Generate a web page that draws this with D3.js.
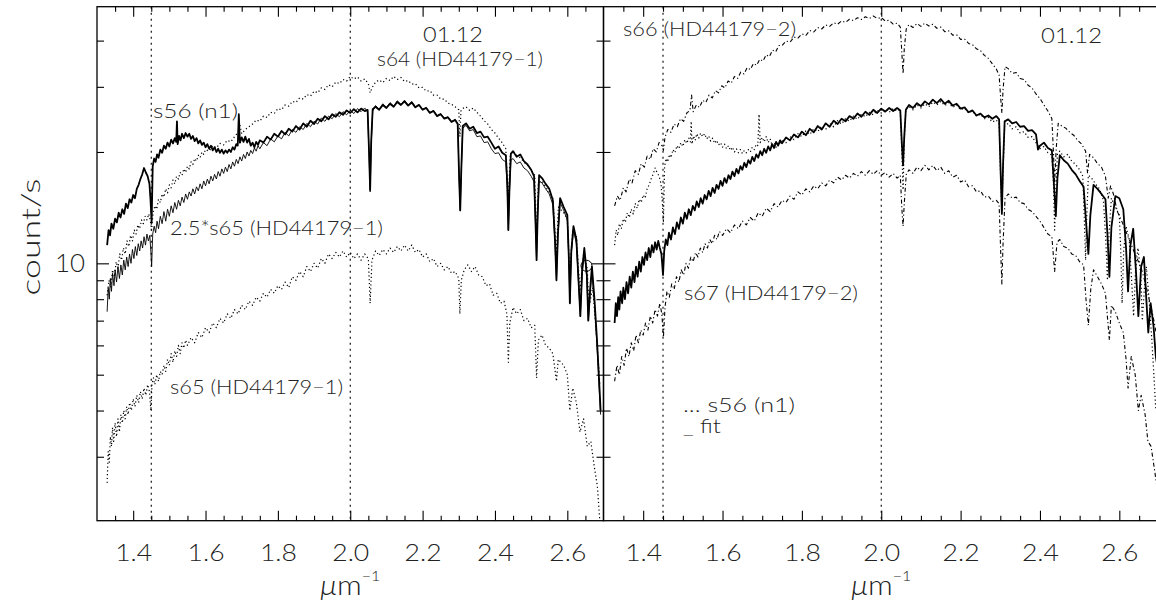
<!DOCTYPE html>
<html><head><meta charset="utf-8">
<script src="https://cdn.jsdelivr.net/npm/d3@7"></script>
<style>
html,body{margin:0;padding:0;background:#fff;}
svg text{font-family:"Lato","DejaVu Sans",sans-serif;font-weight:300;fill:#222;}
</style></head><body>
<svg id="c" width="1156" height="606"></svg>
<script>
// ---------------- DATA ----------------
const xMajorTicks = [1.4,1.6,1.8,2.0,2.2,2.4,2.6];
const xMinorTicks = [1.35,1.45,1.5,1.55,1.65,1.7,1.75,1.85,1.9,1.95,2.05,2.1,2.15,2.25,2.3,2.35,2.45,2.5,2.55,2.65];
const yMajorTicks = [10];
const yMinorTicks = [3,4,5,6,7,8,9,20,30,40];
const xDomain = [1.3, 2.7];
const yDomain = [2.015, 49.4];
const markerLines = [1.45, 2.0];
const circleMark = [[2.653, 9.85]];

// s56 (n1) — thick solid in left panel, dotted in right panel
const s56 = [[1.328,11.2],[1.332,12.3],[1.336,11.9],[1.34,12.8],[1.345,12.4],[1.35,13.2],[1.355,12.9],[1.36,13.7],[1.365,13.3],[1.37,14.0],[1.375,13.6],[1.38,14.5],[1.385,14.1],[1.39,14.9],[1.395,14.6],[1.40,15.3],[1.405,15.0],[1.41,15.9],[1.415,16.3],[1.42,16.9],[1.425,17.4],[1.43,18.1],[1.435,17.6],[1.44,17.2],[1.445,16.4],[1.448,14.8],[1.451,12.9],[1.454,18.3],[1.458,19.2],[1.462,18.8],[1.466,19.7],[1.47,19.3],[1.475,20.3],[1.48,19.9],[1.485,20.8],[1.49,20.4],[1.495,21.2],[1.50,20.7],[1.505,21.6],[1.51,21.1],[1.515,21.8],[1.519,21.3],[1.521,24.2],[1.523,21.0],[1.527,22.1],[1.531,21.5],[1.535,22.4],[1.54,21.8],[1.545,22.5],[1.55,22.0],[1.555,22.4],[1.56,21.7],[1.565,22.1],[1.57,21.4],[1.575,21.8],[1.58,21.1],[1.585,21.5],[1.59,20.9],[1.595,21.2],[1.60,20.6],[1.605,21.0],[1.61,20.4],[1.615,20.8],[1.62,20.2],[1.625,20.6],[1.63,20.0],[1.635,20.4],[1.64,19.9],[1.645,20.3],[1.65,19.8],[1.655,20.2],[1.66,19.9],[1.665,20.3],[1.67,20.0],[1.675,20.6],[1.68,20.3],[1.685,21.0],[1.689,20.8],[1.692,25.3],[1.695,21.2],[1.70,21.9],[1.705,21.3],[1.71,22.0],[1.715,21.2],[1.72,21.7],[1.725,20.8],[1.73,21.2],[1.735,20.6],[1.74,21.3],[1.745,20.9],[1.75,21.5],[1.76,21.2],[1.77,22.0],[1.78,21.6],[1.79,22.4],[1.80,22.0],[1.81,22.8],[1.82,22.3],[1.83,23.1],[1.84,22.7],[1.85,23.5],[1.86,23.0],[1.87,23.9],[1.88,23.4],[1.89,24.3],[1.90,23.8],[1.91,24.6],[1.92,24.2],[1.93,25.0],[1.94,24.5],[1.95,25.3],[1.96,24.9],[1.97,25.6],[1.98,25.2],[1.99,25.9],[2.00,25.5],[2.01,26.1],[2.02,25.6],[2.03,26.2],[2.04,25.8],[2.048,26.0],[2.052,20.0],[2.055,15.8],[2.058,21.5],[2.062,26.1],[2.07,26.5],[2.08,26.0],[2.09,26.8],[2.10,26.3],[2.11,27.0],[2.12,26.5],[2.13,27.3],[2.14,26.8],[2.15,27.4],[2.16,26.7],[2.17,27.2],[2.18,26.4],[2.19,26.8],[2.20,26.0],[2.21,26.3],[2.22,25.5],[2.23,25.8],[2.24,25.0],[2.25,25.3],[2.26,24.6],[2.27,24.8],[2.28,24.1],[2.29,24.4],[2.297,23.8],[2.301,17.0],[2.304,13.9],[2.307,18.0],[2.311,23.5],[2.32,23.9],[2.33,23.1],[2.34,23.4],[2.35,22.5],[2.36,22.7],[2.37,21.9],[2.38,22.0],[2.39,21.2],[2.40,20.4],[2.41,20.7],[2.42,19.9],[2.43,19.6],[2.434,16.5],[2.437,12.3],[2.44,15.8],[2.444,19.8],[2.45,20.1],[2.46,19.4],[2.47,19.7],[2.48,18.9],[2.49,18.5],[2.50,17.9],[2.508,17.2],[2.512,13.0],[2.515,10.2],[2.518,13.5],[2.522,17.3],[2.53,17.0],[2.54,16.4],[2.55,15.9],[2.56,14.8],[2.566,11.5],[2.57,9.0],[2.574,12.0],[2.58,15.0],[2.59,14.2],[2.60,13.5],[2.604,10.5],[2.607,7.8],[2.611,10.8],[2.617,12.6],[2.625,11.6],[2.632,8.6],[2.636,7.2],[2.641,9.6],[2.647,11.0],[2.654,9.3],[2.658,7.0],[2.663,8.5],[2.668,9.8],[2.675,8.0],[2.682,6.2],[2.688,4.8],[2.692,4.0]];

// 2.5*s65 (HD44179-1) — thin solid, left panel
const s65x25 = [[1.328,7.4],[1.331,8.6],[1.334,8.0],[1.337,9.1],[1.34,8.4],[1.343,9.4],[1.347,8.7],[1.35,9.6],[1.354,8.9],[1.358,9.8],[1.362,9.1],[1.366,9.9],[1.37,9.3],[1.374,10.2],[1.378,9.6],[1.382,10.4],[1.386,9.8],[1.39,10.6],[1.394,10.0],[1.398,10.9],[1.402,10.3],[1.406,11.1],[1.41,10.5],[1.414,11.3],[1.418,10.8],[1.422,11.5],[1.426,11.0],[1.43,11.8],[1.434,11.2],[1.438,12.0],[1.442,11.5],[1.446,11.9],[1.449,10.7],[1.451,9.8],[1.454,12.0],[1.458,12.6],[1.462,12.1],[1.466,13.0],[1.47,12.4],[1.475,13.4],[1.48,12.8],[1.485,13.8],[1.49,13.0],[1.495,14.0],[1.50,13.4],[1.505,14.3],[1.51,13.7],[1.515,14.6],[1.52,14.0],[1.525,14.8],[1.53,14.3],[1.535,15.1],[1.54,14.6],[1.545,15.4],[1.55,14.9],[1.555,15.6],[1.56,15.2],[1.565,15.9],[1.57,15.4],[1.575,16.1],[1.58,15.7],[1.585,16.4],[1.59,15.9],[1.595,16.7],[1.60,16.2],[1.605,16.9],[1.61,16.4],[1.615,17.2],[1.62,16.7],[1.625,17.4],[1.63,16.9],[1.635,17.7],[1.64,17.2],[1.645,18.0],[1.65,17.5],[1.655,18.2],[1.66,17.7],[1.665,18.5],[1.67,18.0],[1.675,18.8],[1.68,18.3],[1.685,19.1],[1.69,18.6],[1.695,19.4],[1.70,18.9],[1.705,19.7],[1.71,19.2],[1.715,20.0],[1.72,19.5],[1.725,20.2],[1.73,19.8],[1.735,20.5],[1.74,20.1],[1.745,20.8],[1.75,20.4],[1.76,21.2],[1.77,20.8],[1.78,21.7],[1.79,21.3],[1.80,22.1],[1.81,21.7],[1.82,22.6],[1.83,22.1],[1.84,23.0],[1.85,22.6],[1.86,23.4],[1.87,23.0],[1.88,23.9],[1.89,23.4],[1.90,24.2],[1.91,23.8],[1.92,24.7],[1.93,24.2],[1.94,25.0],[1.95,24.6],[1.96,25.4],[1.97,24.9],[1.98,25.7],[1.99,25.2],[2.00,25.9],[2.01,25.4],[2.02,26.2],[2.03,25.7],[2.04,26.3],[2.048,25.7],[2.052,19.5],[2.055,15.6],[2.058,21.0],[2.062,25.8],[2.07,26.7],[2.08,26.1],[2.09,27.0],[2.10,26.4],[2.11,27.2],[2.12,26.6],[2.13,27.5],[2.14,26.9],[2.15,27.6],[2.16,26.8],[2.17,27.4],[2.18,26.5],[2.19,26.9],[2.20,26.1],[2.21,26.4],[2.22,25.6],[2.23,25.9],[2.24,25.1],[2.25,25.4],[2.26,24.7],[2.27,24.9],[2.28,24.2],[2.29,24.5],[2.297,23.9],[2.301,16.8],[2.304,13.9],[2.307,17.8],[2.311,23.2],[2.32,23.6],[2.33,22.8],[2.34,23.0],[2.35,22.0],[2.36,22.1],[2.37,21.2],[2.38,21.3],[2.39,20.4],[2.40,19.8],[2.41,19.9],[2.42,19.1],[2.43,18.8],[2.434,16.0],[2.437,12.3],[2.44,15.5],[2.444,19.0],[2.45,19.2],[2.46,18.6],[2.47,18.8],[2.48,18.1],[2.49,17.8],[2.50,17.2],[2.508,16.6],[2.512,12.8],[2.515,10.2],[2.518,13.2],[2.522,16.7],[2.53,16.5],[2.54,15.9],[2.55,15.4],[2.56,14.4],[2.566,11.3],[2.57,9.0],[2.574,11.8],[2.58,14.6],[2.59,13.9],[2.60,13.1],[2.604,10.3],[2.607,7.8],[2.611,10.6],[2.617,12.3],[2.625,11.3],[2.632,8.5],[2.636,7.2],[2.641,9.4],[2.647,10.7],[2.654,9.1],[2.658,7.0],[2.663,8.3],[2.668,9.5],[2.675,7.8],[2.682,6.0],[2.688,4.6],[2.692,3.9]];

// s64 (HD44179-1) — dotted, left panel (upper)
const s64 = [[1.328,8.2],[1.333,9.0],[1.338,8.6],[1.343,9.6],[1.348,9.2],[1.353,10.1],[1.358,9.7],[1.363,10.6],[1.368,10.2],[1.373,11.0],[1.378,10.6],[1.383,11.5],[1.388,11.1],[1.393,11.9],[1.398,11.5],[1.403,12.3],[1.408,12.0],[1.413,12.7],[1.418,12.4],[1.423,13.1],[1.428,12.8],[1.433,13.4],[1.438,13.1],[1.443,13.6],[1.448,12.9],[1.451,12.3],[1.455,13.7],[1.46,14.3],[1.465,14.0],[1.47,14.9],[1.475,14.6],[1.48,15.4],[1.485,15.1],[1.49,15.9],[1.495,15.5],[1.50,16.3],[1.505,16.0],[1.51,16.8],[1.515,16.4],[1.52,17.2],[1.525,16.9],[1.53,17.6],[1.535,17.3],[1.54,18.0],[1.545,17.6],[1.55,18.3],[1.555,18.0],[1.56,18.8],[1.565,18.5],[1.57,19.2],[1.575,18.9],[1.58,19.6],[1.585,19.3],[1.59,20.0],[1.595,19.7],[1.60,20.3],[1.61,20.1],[1.62,20.8],[1.63,20.5],[1.64,21.1],[1.65,20.9],[1.66,21.5],[1.67,21.3],[1.68,22.0],[1.69,22.6],[1.695,23.7],[1.70,22.4],[1.71,23.0],[1.72,23.4],[1.73,23.8],[1.74,24.4],[1.75,24.2],[1.76,25.0],[1.77,24.8],[1.78,25.6],[1.79,25.4],[1.80,26.2],[1.81,26.0],[1.82,26.8],[1.83,26.6],[1.84,27.4],[1.85,27.2],[1.86,28.0],[1.87,27.8],[1.88,28.6],[1.89,28.3],[1.90,29.2],[1.91,28.9],[1.92,29.8],[1.93,29.5],[1.94,30.4],[1.95,30.0],[1.96,30.9],[1.97,30.6],[1.98,31.4],[1.99,31.1],[2.00,32.0],[2.01,31.5],[2.02,31.9],[2.03,31.1],[2.04,31.5],[2.05,30.6],[2.055,28.9],[2.06,29.8],[2.07,30.9],[2.08,31.3],[2.09,30.8],[2.10,31.6],[2.11,31.2],[2.12,32.0],[2.13,31.4],[2.14,31.8],[2.15,31.0],[2.16,31.2],[2.17,30.5],[2.18,30.6],[2.19,29.8],[2.20,29.9],[2.21,29.2],[2.22,29.3],[2.23,28.5],[2.24,28.5],[2.25,27.8],[2.26,27.8],[2.27,27.1],[2.28,26.9],[2.29,26.5],[2.30,26.0],[2.303,22.0],[2.306,25.8],[2.31,26.2],[2.32,26.5],[2.33,25.9],[2.34,26.3],[2.35,25.6],[2.36,25.0],[2.37,24.3],[2.38,23.8],[2.39,23.0],[2.40,22.5],[2.41,21.8],[2.42,21.2],[2.43,20.4],[2.437,14.5],[2.442,19.6],[2.45,20.1],[2.46,19.6],[2.47,19.3],[2.48,18.8],[2.49,18.4],[2.50,17.9],[2.51,17.3],[2.515,11.8],[2.52,16.5],[2.53,16.7],[2.54,16.1],[2.55,15.6],[2.56,15.0],[2.57,10.5],[2.575,14.2],[2.59,13.7],[2.60,13.2],[2.607,9.2],[2.615,12.4],[2.625,11.8],[2.635,8.4],[2.645,10.6],[2.655,9.7],[2.66,7.6],[2.67,8.6],[2.68,6.5],[2.69,4.7]];

// s65 (HD44179-1) — dotted, left panel (lower)
const s65 = [[1.328,2.55],[1.331,3.1],[1.334,2.9],[1.337,3.4],[1.34,3.2],[1.343,3.6],[1.346,3.3],[1.35,3.7],[1.354,3.4],[1.358,3.8],[1.362,3.5],[1.366,3.9],[1.37,3.7],[1.374,4.0],[1.378,3.8],[1.382,4.1],[1.386,3.9],[1.39,4.2],[1.395,4.0],[1.40,4.3],[1.405,4.1],[1.41,4.4],[1.415,4.2],[1.42,4.5],[1.425,4.3],[1.43,4.6],[1.435,4.4],[1.44,4.7],[1.445,4.5],[1.449,4.0],[1.452,4.7],[1.456,4.9],[1.46,4.7],[1.465,5.0],[1.47,4.8],[1.475,5.1],[1.48,5.0],[1.485,5.3],[1.49,5.1],[1.495,5.5],[1.50,5.3],[1.505,5.7],[1.51,5.4],[1.515,5.8],[1.52,5.6],[1.525,6.0],[1.53,5.7],[1.535,6.1],[1.54,5.9],[1.545,6.2],[1.55,6.0],[1.56,6.3],[1.57,6.1],[1.58,6.5],[1.59,6.3],[1.60,6.7],[1.61,6.5],[1.62,6.9],[1.63,6.7],[1.64,7.1],[1.65,6.9],[1.66,7.3],[1.67,7.1],[1.68,7.5],[1.69,7.3],[1.70,7.7],[1.71,7.5],[1.72,7.9],[1.73,7.7],[1.74,8.1],[1.75,7.9],[1.76,8.3],[1.77,8.1],[1.78,8.5],[1.79,8.3],[1.80,8.7],[1.81,8.5],[1.82,8.9],[1.83,8.6],[1.84,9.2],[1.85,9.0],[1.86,9.5],[1.87,9.2],[1.88,9.8],[1.89,9.5],[1.90,10.0],[1.91,9.7],[1.92,10.3],[1.93,10.0],[1.94,10.6],[1.95,10.3],[1.96,10.7],[1.97,10.4],[1.98,10.8],[1.99,10.4],[2.00,10.7],[2.01,10.3],[2.02,10.6],[2.03,10.2],[2.04,10.6],[2.05,10.3],[2.055,7.8],[2.06,10.2],[2.07,10.8],[2.08,10.5],[2.09,10.9],[2.10,10.6],[2.11,11.0],[2.12,10.7],[2.13,11.1],[2.14,10.8],[2.15,11.2],[2.16,10.8],[2.17,11.2],[2.18,10.7],[2.19,10.9],[2.20,10.4],[2.21,10.6],[2.22,10.1],[2.23,10.3],[2.24,9.8],[2.25,10.0],[2.26,9.6],[2.27,9.8],[2.28,9.4],[2.29,9.5],[2.30,9.1],[2.303,7.3],[2.307,9.0],[2.315,9.6],[2.325,9.9],[2.335,9.5],[2.345,9.8],[2.355,9.3],[2.365,9.2],[2.375,8.7],[2.385,8.8],[2.395,8.2],[2.405,8.3],[2.415,7.8],[2.425,7.9],[2.433,7.3],[2.437,5.4],[2.441,6.9],[2.45,7.6],[2.46,7.3],[2.47,7.5],[2.48,7.0],[2.49,7.1],[2.50,6.7],[2.51,6.8],[2.515,4.9],[2.52,6.2],[2.53,6.4],[2.54,6.0],[2.55,5.9],[2.56,5.7],[2.57,4.8],[2.575,5.5],[2.59,5.3],[2.60,5.0],[2.607,4.0],[2.615,4.6],[2.625,4.2],[2.635,3.5],[2.645,3.8],[2.655,3.2],[2.665,3.3],[2.675,2.8],[2.683,2.5],[2.69,2.0]];

// s66 (HD44179-2) — dash-dot, right panel (upper)
const s66 = [[1.328,14.3],[1.335,15.2],[1.342,14.8],[1.35,16.0],[1.357,15.6],[1.365,16.9],[1.372,16.5],[1.38,17.8],[1.388,17.4],[1.395,18.6],[1.403,18.2],[1.41,19.5],[1.418,19.1],[1.425,20.4],[1.433,20.0],[1.44,21.2],[1.447,20.8],[1.451,20.2],[1.455,21.9],[1.462,23.0],[1.47,22.6],[1.478,23.8],[1.486,23.4],[1.494,24.6],[1.502,24.2],[1.51,25.5],[1.518,25.9],[1.522,28.5],[1.526,25.7],[1.534,26.8],[1.542,26.4],[1.55,27.6],[1.558,27.2],[1.566,28.5],[1.574,28.0],[1.582,29.3],[1.59,28.9],[1.598,30.2],[1.606,29.8],[1.614,31.1],[1.622,30.7],[1.63,32.0],[1.638,31.6],[1.646,32.9],[1.654,32.5],[1.662,33.8],[1.67,33.4],[1.678,34.7],[1.686,34.3],[1.694,35.6],[1.702,35.2],[1.71,36.6],[1.718,36.2],[1.726,37.7],[1.734,37.3],[1.742,38.8],[1.75,38.8],[1.76,39.9],[1.77,39.6],[1.78,40.9],[1.79,40.6],[1.80,41.7],[1.81,41.3],[1.82,42.6],[1.83,42.2],[1.84,43.4],[1.85,43.0],[1.86,44.1],[1.87,43.7],[1.88,44.7],[1.89,44.3],[1.90,45.2],[1.91,44.8],[1.92,45.7],[1.93,45.3],[1.94,46.1],[1.95,45.6],[1.96,46.4],[1.97,45.9],[1.98,46.6],[1.99,45.9],[2.00,46.2],[2.01,45.2],[2.02,45.4],[2.03,44.3],[2.04,44.6],[2.048,43.5],[2.052,37.0],[2.055,32.5],[2.058,38.0],[2.063,43.0],[2.07,44.2],[2.08,43.4],[2.09,44.5],[2.10,43.7],[2.11,44.6],[2.12,43.8],[2.13,44.3],[2.14,43.2],[2.15,43.5],[2.16,42.3],[2.17,42.5],[2.18,41.4],[2.19,41.5],[2.20,40.3],[2.21,40.4],[2.22,39.3],[2.23,39.0],[2.24,38.0],[2.25,37.6],[2.26,36.5],[2.27,35.8],[2.28,34.6],[2.29,33.5],[2.297,32.3],[2.301,28.0],[2.304,25.5],[2.307,29.5],[2.312,34.0],[2.32,33.6],[2.33,32.6],[2.34,32.8],[2.35,31.6],[2.36,31.4],[2.37,30.3],[2.38,29.8],[2.39,28.7],[2.40,27.9],[2.41,26.8],[2.42,25.8],[2.43,24.6],[2.434,20.0],[2.437,16.5],[2.441,20.5],[2.446,23.9],[2.455,23.5],[2.465,23.2],[2.475,22.6],[2.485,22.2],[2.495,21.5],[2.505,21.0],[2.515,20.1],[2.52,17.5],[2.525,19.7],[2.535,19.3],[2.545,18.6],[2.555,18.2],[2.565,17.2],[2.572,15.0],[2.578,16.2],[2.585,15.4],[2.595,13.8],[2.605,13.1],[2.615,12.3],[2.625,11.6],[2.635,10.9],[2.645,10.3],[2.655,9.7],[2.665,8.9],[2.675,8.0],[2.685,7.2],[2.695,6.3]];

// fit — thick solid, right panel
const fit = [[1.328,6.9],[1.331,7.8],[1.334,7.2],[1.337,8.1],[1.34,7.5],[1.343,8.4],[1.347,7.8],[1.35,8.6],[1.354,8.0],[1.358,8.9],[1.362,8.3],[1.366,9.2],[1.37,8.6],[1.374,9.5],[1.378,8.9],[1.382,9.8],[1.386,9.2],[1.39,10.1],[1.394,9.5],[1.398,10.4],[1.402,9.9],[1.406,10.7],[1.41,10.2],[1.414,11.0],[1.418,10.4],[1.422,11.2],[1.426,10.7],[1.43,11.4],[1.434,10.9],[1.438,11.5],[1.442,11.0],[1.446,10.6],[1.45,9.3],[1.453,10.8],[1.457,11.6],[1.461,11.2],[1.465,12.1],[1.47,11.6],[1.475,12.5],[1.48,12.0],[1.485,12.9],[1.49,12.4],[1.495,13.3],[1.50,12.8],[1.505,13.7],[1.51,13.2],[1.515,14.0],[1.52,13.5],[1.525,14.3],[1.53,13.9],[1.535,14.7],[1.54,14.2],[1.545,15.0],[1.55,14.5],[1.555,15.3],[1.56,14.9],[1.565,15.7],[1.57,15.2],[1.575,16.0],[1.58,15.5],[1.585,16.3],[1.59,15.9],[1.595,16.7],[1.60,16.2],[1.605,17.0],[1.61,16.5],[1.615,17.3],[1.62,16.9],[1.625,17.7],[1.63,17.2],[1.635,18.0],[1.64,17.5],[1.645,18.3],[1.65,17.9],[1.655,18.7],[1.66,18.2],[1.665,19.0],[1.67,18.6],[1.675,19.4],[1.68,18.9],[1.685,19.7],[1.69,19.3],[1.695,20.1],[1.70,19.6],[1.705,20.4],[1.71,19.9],[1.715,20.7],[1.72,20.2],[1.725,21.0],[1.73,20.5],[1.735,21.3],[1.74,20.8],[1.745,21.5],[1.75,21.1],[1.76,21.9],[1.77,21.5],[1.78,22.3],[1.79,21.9],[1.80,22.7],[1.81,22.2],[1.82,23.1],[1.83,22.6],[1.84,23.5],[1.85,23.0],[1.86,23.9],[1.87,23.4],[1.88,24.3],[1.89,23.8],[1.90,24.6],[1.91,24.2],[1.92,25.0],[1.93,24.6],[1.94,25.4],[1.95,24.9],[1.96,25.7],[1.97,25.2],[1.98,26.0],[1.99,25.5],[2.00,26.2],[2.01,25.7],[2.02,26.3],[2.03,25.8],[2.04,26.3],[2.048,25.9],[2.052,21.0],[2.055,18.4],[2.058,22.0],[2.062,26.0],[2.07,26.8],[2.08,26.3],[2.09,27.1],[2.10,26.6],[2.11,27.4],[2.12,26.9],[2.13,27.7],[2.14,27.1],[2.15,27.8],[2.16,27.0],[2.17,27.5],[2.18,26.7],[2.19,27.0],[2.20,26.2],[2.21,26.4],[2.22,25.6],[2.23,25.9],[2.24,25.1],[2.25,25.4],[2.26,24.8],[2.27,25.1],[2.28,24.6],[2.29,25.0],[2.297,24.5],[2.301,17.5],[2.304,13.6],[2.307,18.5],[2.311,24.2],[2.32,24.5],[2.33,23.9],[2.34,24.1],[2.35,23.4],[2.36,23.5],[2.37,22.8],[2.38,22.9],[2.39,22.3],[2.395,20.3],[2.40,20.8],[2.41,21.2],[2.42,20.5],[2.43,20.2],[2.435,16.5],[2.44,13.4],[2.444,17.0],[2.45,19.6],[2.46,19.0],[2.47,18.6],[2.48,17.9],[2.49,17.4],[2.50,16.7],[2.51,16.1],[2.516,13.0],[2.522,10.6],[2.527,13.5],[2.535,16.3],[2.545,15.9],[2.555,15.4],[2.565,14.9],[2.57,12.0],[2.575,9.2],[2.58,12.5],[2.59,15.2],[2.60,15.0],[2.61,14.0],[2.617,11.0],[2.622,8.4],[2.628,11.2],[2.635,12.4],[2.642,9.5],[2.648,7.2],[2.655,9.8],[2.662,10.4],[2.668,8.0],[2.673,6.5],[2.679,7.8],[2.686,6.8],[2.692,5.6],[2.697,5.2]];

// s67 (HD44179-2) — dash-dot, right panel (lower)
const s67 = [[1.328,4.8],[1.334,5.3],[1.34,5.0],[1.346,5.6],[1.352,5.3],[1.358,5.9],[1.364,5.6],[1.37,6.1],[1.376,5.8],[1.382,6.4],[1.388,6.1],[1.394,6.6],[1.40,6.4],[1.406,6.9],[1.412,6.6],[1.418,7.2],[1.424,6.9],[1.43,7.5],[1.436,7.2],[1.442,7.8],[1.447,7.3],[1.451,6.3],[1.455,7.6],[1.46,8.4],[1.466,8.1],[1.472,8.8],[1.478,8.5],[1.484,9.2],[1.49,8.9],[1.496,9.6],[1.502,9.3],[1.508,10.0],[1.514,9.7],[1.52,10.4],[1.526,10.1],[1.532,10.7],[1.538,10.4],[1.544,11.0],[1.55,10.7],[1.556,11.3],[1.562,11.0],[1.568,11.6],[1.574,11.3],[1.58,11.9],[1.586,11.6],[1.592,12.2],[1.60,11.9],[1.61,12.4],[1.62,12.1],[1.63,12.7],[1.64,12.4],[1.65,13.0],[1.66,12.7],[1.67,13.3],[1.68,13.0],[1.69,13.7],[1.70,13.4],[1.71,14.1],[1.72,13.8],[1.73,14.5],[1.74,14.2],[1.75,14.8],[1.76,14.6],[1.77,15.2],[1.78,14.9],[1.79,15.6],[1.80,15.3],[1.81,15.9],[1.82,15.6],[1.83,16.2],[1.84,15.9],[1.85,16.5],[1.86,16.2],[1.87,16.8],[1.88,16.5],[1.89,17.1],[1.90,16.8],[1.91,17.3],[1.92,17.0],[1.93,17.5],[1.94,17.2],[1.95,17.7],[1.96,17.3],[1.97,17.8],[1.98,17.4],[1.99,17.8],[2.00,17.3],[2.01,17.6],[2.02,17.1],[2.03,17.5],[2.04,17.0],[2.048,17.3],[2.052,14.0],[2.055,12.6],[2.058,14.5],[2.063,17.4],[2.07,17.9],[2.08,17.5],[2.09,18.2],[2.10,17.8],[2.11,18.4],[2.12,17.9],[2.13,18.4],[2.14,17.8],[2.15,18.2],[2.16,17.5],[2.17,17.8],[2.18,17.1],[2.19,17.3],[2.20,16.6],[2.21,16.8],[2.22,16.1],[2.23,16.2],[2.24,15.6],[2.25,15.7],[2.26,15.1],[2.27,15.2],[2.28,14.7],[2.29,14.8],[2.297,14.5],[2.301,10.8],[2.304,8.8],[2.307,11.3],[2.312,15.0],[2.32,15.4],[2.33,15.0],[2.34,15.1],[2.35,14.6],[2.36,14.5],[2.37,14.0],[2.38,13.8],[2.39,13.4],[2.40,13.0],[2.41,12.5],[2.42,12.0],[2.43,11.8],[2.437,9.5],[2.443,11.4],[2.45,11.6],[2.46,11.1],[2.47,11.0],[2.48,10.6],[2.49,10.5],[2.50,10.1],[2.51,9.9],[2.516,8.0],[2.522,6.8],[2.528,8.5],[2.535,9.6],[2.545,9.2],[2.555,8.8],[2.565,8.3],[2.575,6.2],[2.58,7.7],[2.59,7.4],[2.60,6.9],[2.61,6.5],[2.617,5.5],[2.622,4.6],[2.63,5.6],[2.64,5.0],[2.648,4.0],[2.655,4.4],[2.665,3.9],[2.672,3.3],[2.68,3.2],[2.688,2.8],[2.697,2.4]];

// ---------------- LAYOUT ----------------
const svg = d3.select("#c");
const TOP = 6.7, BOT = 520.7;
const y = d3.scaleLog().domain(yDomain).range([BOT, TOP]);
const panels = [
  {id:"L", x0:97, x1:603.5},
  {id:"R", x0:603.5, x1:1159}
];
panels.forEach(p => { p.x = d3.scaleLinear().domain(xDomain).range([p.x0, p.x1]); });

const defs = svg.append("defs");
panels.forEach(p => {
  defs.append("clipPath").attr("id","clip"+p.id).append("rect")
    .attr("x",p.x0).attr("y",TOP).attr("width",p.x1-p.x0).attr("height",BOT-TOP);
});

const styles = {
  thick:{w:1.8, dash:null},
  thin:{w:0.9, dash:null},
  dot:{w:1.2, dash:"1.2,2.6"},
  dashdot:{w:1.1, dash:"4,2.5,1.2,2.5"}
};

function drawSeries(p, data, st){
  const line = d3.line().x(d=>p.x(d[0])).y(d=>y(d[1]));
  const s = styles[st];
  svg.append("path").attr("clip-path","url(#clip"+p.id+")")
    .attr("d", line(data)).attr("fill","none").attr("stroke","#000")
    .attr("stroke-width", s.w).attr("stroke-linejoin","round")
    .attr("stroke-dasharray", s.dash);
}

function axes(p, leftTicks, rightTicks){
  const g = svg.append("g").attr("stroke","#000");
  g.append("rect").attr("x",p.x0).attr("y",TOP).attr("width",p.x1-p.x0).attr("height",BOT-TOP)
    .attr("fill","none").attr("stroke","#000").attr("stroke-width",1.3);
  const fmt = d3.format(".1f");
  const bMaj = svg.append("g").attr("transform",`translate(0,${BOT})`)
    .call(d3.axisBottom(p.x).tickValues(xMajorTicks).tickSize(-10).tickSizeOuter(0).tickPadding(23).tickFormat(fmt));
  bMaj.select(".domain").remove();
  bMaj.selectAll("text").attr("font-size",24).attr("fill","#222")
    .attr("textLength",37).attr("lengthAdjust","spacingAndGlyphs");
  const bMin = svg.append("g").attr("transform",`translate(0,${BOT})`)
    .call(d3.axisBottom(p.x).tickValues(xMinorTicks).tickSize(-5).tickSizeOuter(0).tickFormat(""));
  bMin.select(".domain").remove();
  const tMaj = svg.append("g").attr("transform",`translate(0,${TOP})`)
    .call(d3.axisBottom(p.x).tickValues(xMajorTicks).tickSize(10).tickSizeOuter(0).tickFormat(""));
  tMaj.select(".domain").remove();
  const tMin = svg.append("g").attr("transform",`translate(0,${TOP})`)
    .call(d3.axisBottom(p.x).tickValues(xMinorTicks).tickSize(5).tickSizeOuter(0).tickFormat(""));
  tMin.select(".domain").remove();
  if (leftTicks){
    const lMaj = svg.append("g").attr("transform",`translate(${p.x0},0)`)
      .call(d3.axisLeft(y).tickValues(yMajorTicks).tickSize(-12).tickSizeOuter(0).tickPadding(12).tickFormat(d3.format("d")));
    lMaj.select(".domain").remove();
    lMaj.selectAll("text").attr("font-size",25).attr("fill","#222")
      .attr("textLength",30).attr("lengthAdjust","spacingAndGlyphs");
    if (p.id==="R") lMaj.selectAll("text").remove();
    const lMin = svg.append("g").attr("transform",`translate(${p.x0},0)`)
      .call(d3.axisLeft(y).tickValues(yMinorTicks).tickSize(-7).tickSizeOuter(0).tickFormat(""));
    lMin.select(".domain").remove();
  }
  if (rightTicks){
    const rMaj = svg.append("g").attr("transform",`translate(${p.x1},0)`)
      .call(d3.axisRight(y).tickValues(yMajorTicks).tickSize(-12).tickSizeOuter(0).tickFormat(""));
    rMaj.select(".domain").remove();
    const rMin = svg.append("g").attr("transform",`translate(${p.x1},0)`)
      .call(d3.axisRight(y).tickValues(yMinorTicks).tickSize(-7).tickSizeOuter(0).tickFormat(""));
    rMin.select(".domain").remove();
  }
  svg.selectAll(".tick line").attr("stroke","#000").attr("stroke-width",1.1);
  markerLines.forEach(v => {
    svg.append("line").attr("x1",p.x(v)).attr("x2",p.x(v)).attr("y1",TOP).attr("y2",BOT)
      .attr("stroke","#000").attr("stroke-width",1.1).attr("stroke-dasharray","2,4");
  });
  const xt = svg.append("text").attr("x",p.x(2.0)-30).attr("y",595)
    .attr("font-size",27).attr("textLength",60).attr("lengthAdjust","spacingAndGlyphs");
  xt.append("tspan").attr("font-style","italic").text("μ");
  xt.append("tspan").text("m");
  xt.append("tspan").attr("font-size",14).attr("dy",-14).text("−1");
}

const L = panels[0], R = panels[1];

drawSeries(L, s65, "dot");
drawSeries(L, s64, "dot");
drawSeries(L, s65x25, "thin");
drawSeries(L, s56, "thick");
svg.selectAll(null).data(circleMark).enter().append("circle")
  .attr("cx",d=>L.x(d[0])).attr("cy",d=>y(d[1])).attr("r",5.5)
  .attr("fill","none").attr("stroke","#000").attr("stroke-width",1);

drawSeries(R, s66, "dashdot");
drawSeries(R, s67, "dashdot");
drawSeries(R, s56, "dot");
drawSeries(R, fit, "thick");

axes(L, true, true);
axes(R, true, false);

svg.append("text").attr("transform","translate(40,237) rotate(-90)")
  .attr("text-anchor","middle").attr("font-size",26)
  .attr("textLength",117).attr("lengthAdjust","spacingAndGlyphs").text("count/s");

function label(txt, x, yb, w, size){
  svg.append("text").attr("x",x).attr("y",yb).attr("font-size",size||20)
    .attr("textLength",w).attr("lengthAdjust","spacingAndGlyphs").text(txt);
}
label("01.12", 423, 42, 60, 21);
label("s64 (HD44179−1)", 377, 66, 166);
label("s56 (n1)", 153, 118, 85);
label("2.5*s65 (HD44179−1)", 170, 235, 213);
label("s65 (HD44179−1)", 170, 394, 173);
label("s66 (HD44179−2)", 623, 36, 173);
label("01.12", 1041, 43, 61, 21);
label("s67 (HD44179−2)", 684, 300, 174);
label("... s56 (n1)", 683, 412, 112, 19);
label("_ fit", 683, 433, 38, 19);
</script>
</body></html>
